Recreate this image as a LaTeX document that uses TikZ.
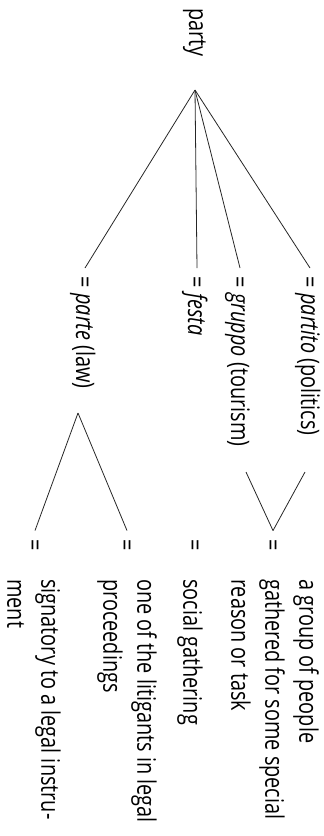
\documentclass[tikz,border=0pt]{standalone}
\usepackage{fontspec}
\setmainfont{Open Sans}
\usetikzlibrary{positioning}

\begin{document}
\begin{tikzpicture}[
    x=1pt, y=-1pt,
    txt/.style={rotate=-90, xscale=0.78, font=\fontsize{25.5}{34}\selectfont, text=black},
    lbl/.style={txt, anchor=west, inner ysep=0pt, inner xsep=11pt, text height=22.4pt, text depth=4.6pt},
    defn/.style={txt, anchor=north west, inner sep=0pt, align=left},
    branch/.style={line width=0.8pt, draw=black!85}
]
\useasboundingbox (0,0) rectangle (324,836);

% headword
\node[lbl, inner xsep=0pt] (party) at (198,8) {party};
\coordinate (rootapex) at (195,90);

% translations
\node[lbl] (partito) at (310,268) {= \textit{partito} (politics)};
\node[lbl] (gruppo) at (240,268) {= \textit{gruppo} (tourism)};
\node[lbl] (festa) at (197,268) {= \textit{festa}};
\node[lbl] (parte) at (85,268) {= \textit{parte} (law)};

\foreach \n in {partito,gruppo,festa,parte}
    \draw[branch] (rootapex) -- (\n.west);

% equals before the meanings
\node[lbl, anchor=center] (eqsign) at (35,545) {=};
\node[lbl, anchor=center] (eqlitig) at (127,545) {=};
\node[lbl, anchor=center] (eqsocial) at (195,545) {=};
\node[lbl, anchor=center] (eqgroup) at (273,545) {=};

% sub-branches
\coordinate (parteapex) at (78,413);
\coordinate (gruppoend) at (246,472);
\coordinate (partitoend) at (305,472);
\draw[branch] (parteapex) -- (eqsign.west);
\draw[branch] (parteapex) -- (eqlitig.west);
\draw[branch] (gruppoend) -- (eqgroup.west);
\draw[branch] (partitoend) -- (eqgroup.west);

% meanings
\node[defn] (dgroup) at (319,579) {a group of people\\gathered for some special\\reason or task};
\node[defn] (dsocial) at (203,579) {social gathering};
\node[defn] (dlitig) at (157,579) {one of the litigants in legal\\proceedings};
\node[defn] (dsign) at (61,579) {signatory to a legal instru-\\ment};
\end{tikzpicture}
\end{document}
